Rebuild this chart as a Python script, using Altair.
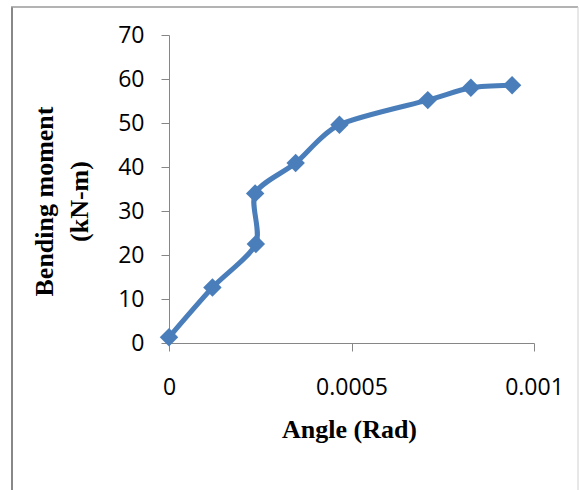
import altair as alt
import pandas as pd

# Data
angle = [0.0, 0.000119, 0.000238, 0.000236, 0.000347, 0.000467, 0.000709, 0.000827, 0.00094]
moment = [1.3, 12.6, 22.5, 34.0, 40.9, 49.6, 55.2, 58.0, 58.6]
order = list(range(len(angle)))

x_ticks = [0, 0.0005, 0.001]
y_ticks = [0, 10, 20, 30, 40, 50, 60, 70]

df = pd.DataFrame({"angle": angle, "moment": moment, "idx": order})

BLUE = "#4A7EBB"
AXIS_GRAY = "#868686"

x_enc = alt.X(
    "angle:Q",
    scale=alt.Scale(domain=[0, 0.001], nice=False, zero=False),
    axis=alt.Axis(
        values=x_ticks,
        format=".4~f",
        grid=False,
        domainColor=AXIS_GRAY,
        tickColor=AXIS_GRAY,
        tickSize=8,
        labelPadding=25,
        labelFont="Open Sans",
        labelFontSize=23,
        labelColor="black",
        labelFlush=False,
        title="Angle (Rad)",
        titleFont="Liberation Serif",
        titleFontSize=26,
        titleFontWeight="bold",
        titleColor="black",
        titleX=180,
        titleY=94,
        titleBaseline="alphabetic",
        titleAlign="center",
    ),
)
y_enc = alt.Y(
    "moment:Q",
    scale=alt.Scale(domain=[0, 70], nice=False),
    axis=alt.Axis(
        values=y_ticks,
        grid=False,
        domainColor=AXIS_GRAY,
        tickColor=AXIS_GRAY,
        tickSize=8,
        labelPadding=17,
        labelFont="Open Sans",
        labelFontSize=23,
        labelColor="black",
        labelFlush=False,
        title=["Bending moment", "(kN-m)"],
        titleFont="Liberation Serif",
        titleFontSize=26,
        titleFontWeight="bold",
        titleColor="black",
        titleAngle=270,
        titleX=-117,
        titleY=166,
        titleBaseline="alphabetic",
        titleAlign="center",
        titleLineHeight=35,
    ),
)

line = alt.Chart(df).mark_line(
    color=BLUE, strokeWidth=5, interpolate="cardinal", tension=0.2
).encode(x=x_enc, y=y_enc, order="idx:Q")

points = alt.Chart(df).mark_point(
    shape="diamond", filled=True, size=340, color=BLUE, opacity=1
).encode(x="angle:Q", y="moment:Q")

one = alt.Data(values=[{"a": 1}])
frame_left = alt.Chart(one).mark_rule(color="#888888", strokeWidth=2).encode(
    x=alt.value(-157), y=alt.value(-28), y2=alt.value(460)
)
frame_top = alt.Chart(one).mark_rule(color="#9a9a9a", strokeWidth=1.5).encode(
    x=alt.value(-158), x2=alt.value(409), y=alt.value(-28)
)
frame_right = alt.Chart(one).mark_rule(color="#d0d0d0", strokeWidth=1).encode(
    x=alt.value(409), y=alt.value(-28), y2=alt.value(460)
)

chart = alt.layer(frame_left, frame_top, frame_right, line, points).properties(
    width=365,
    height=308,
    autosize=alt.AutoSizeParams(type="none"),
    padding={"left": 169, "top": 35, "right": 45, "bottom": 147},
    background="white",
).configure_view(stroke=None)

chart.save("out.html", embed_options={"renderer": "svg", "actions": False})
